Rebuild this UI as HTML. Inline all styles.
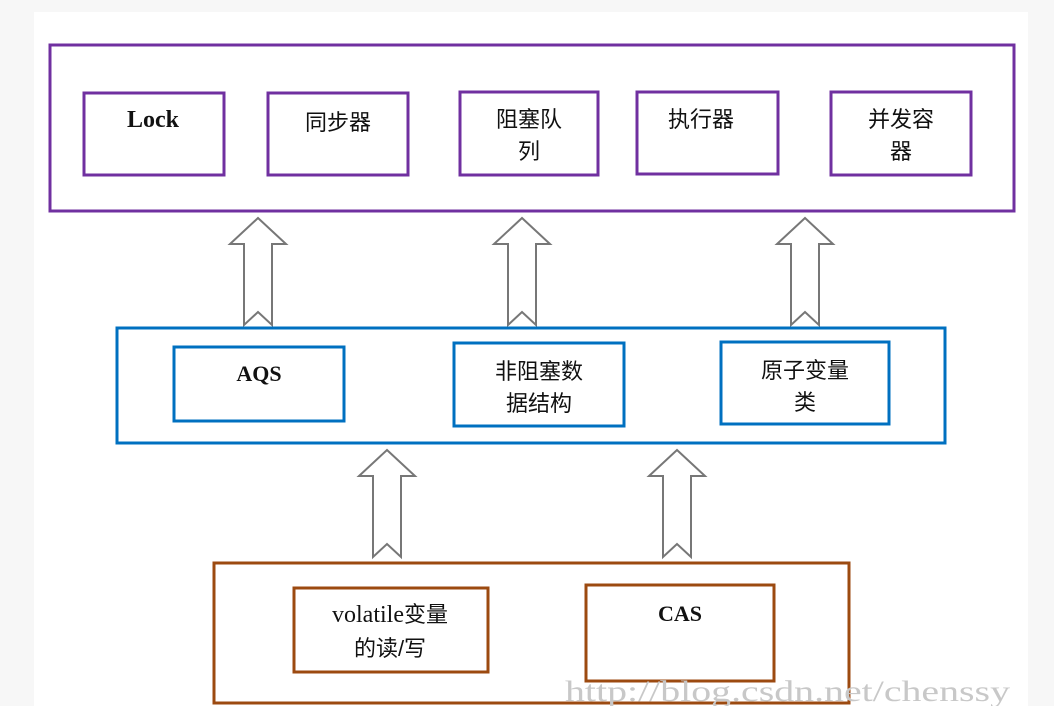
<!DOCTYPE html>
<html><head><meta charset="utf-8"><style>
html,body{margin:0;padding:0;background:#f7f7f7;}
svg{display:block}
text{font-family:"Liberation Serif","Noto Sans CJK SC",serif;font-size:23px;fill:#111;text-anchor:middle}
.c{font-family:"Liberation Sans","Noto Sans CJK SC",sans-serif;font-size:22px}
</style></head><body>
<svg width="1054" height="706" xmlns="http://www.w3.org/2000/svg">
<rect x="34" y="12" width="994" height="700" fill="#fff"/>
<g fill="none" stroke="#7030a0" stroke-width="3">
<rect x="50" y="45" width="964" height="166"/>
<rect x="84" y="93" width="140" height="82"/>
<rect x="268" y="93" width="140" height="82"/>
<rect x="460" y="92" width="138" height="83"/>
<rect x="637" y="92" width="141" height="82"/>
<rect x="831" y="92" width="140" height="83"/>
</g>
<text x="153" y="127" style="font-size:24px;font-weight:bold">Lock</text>
<text class="c" x="338" y="130">同步器</text>
<text class="c" x="529" y="127">阻塞队</text>
<text class="c" x="529" y="159">列</text>
<text class="c" x="701" y="127">执行器</text>
<text class="c" x="901" y="127">并发容</text>
<text class="c" x="901" y="159">器</text>
<g fill="#fff" stroke="#777" stroke-width="2">
<path d="M258 218 L286 244 L272 244 L272 325 L258 312 L244 325 L244 244 L230 244 Z"/>
<path d="M522 218 L550 244 L536 244 L536 325 L522 312 L508 325 L508 244 L494 244 Z"/>
<path d="M805 218 L833 244 L819 244 L819 325 L805 312 L791 325 L791 244 L777 244 Z"/>
<path d="M387 450 L415 476 L401 476 L401 557 L387 544 L373 557 L373 476 L359 476 Z"/>
<path d="M677 450 L705 476 L691 476 L691 557 L677 544 L663 557 L663 476 L649 476 Z"/>
</g>
<g fill="none" stroke="#0070c0" stroke-width="3">
<rect x="117" y="328" width="828" height="115"/>
<rect x="174" y="347" width="170" height="74"/>
<rect x="454" y="343" width="170" height="83"/>
<rect x="721" y="342" width="168" height="82"/>
</g>
<text x="259" y="381" style="font-weight:bold;font-size:22px">AQS</text>
<text class="c" x="539" y="379">非阻塞数</text>
<text class="c" x="539" y="411">据结构</text>
<text class="c" x="805" y="378">原子变量</text>
<text class="c" x="805" y="410">类</text>
<g fill="none" stroke="#9c4a10" stroke-width="3">
<rect x="214" y="563" width="635" height="140"/>
<rect x="294" y="588" width="194" height="84"/>
<rect x="586" y="585" width="188" height="96"/>
</g>
<text class="c" x="390" y="622"><tspan style="font-family:'Liberation Serif',serif;font-size:24px">volatile</tspan>变量</text>
<text class="c" x="390" y="656">的读/写</text>
<text x="680" y="621" style="font-weight:bold;font-size:22px">CAS</text>
<text x="565" y="701" textLength="445" lengthAdjust="spacingAndGlyphs" style="font-size:30px;fill:#c8c8c8;text-anchor:start">http://blog.csdn.net/chenssy</text>
</svg>
</body></html>
